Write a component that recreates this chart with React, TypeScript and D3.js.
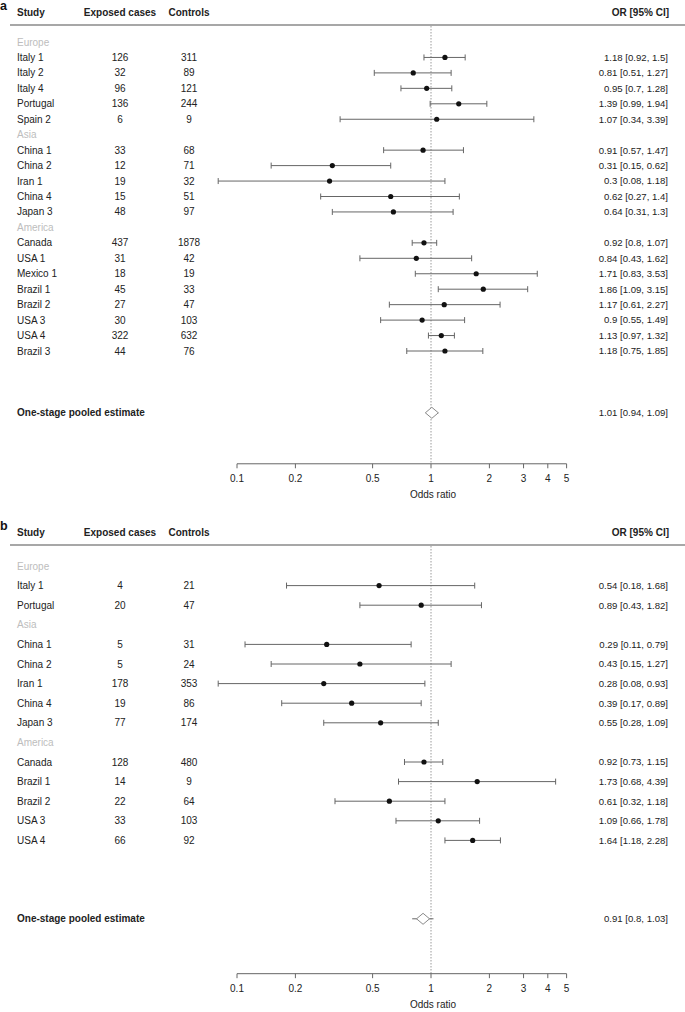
import React from "react";
import * as d3 from "d3";

// ---------- Panel a data ----------
const regionsA = ["Europe", "Asia", "America"];
const regionSizesA = [5, 5, 8];
const studiesA = ["Italy 1", "Italy 2", "Italy 4", "Portugal", "Spain 2", "China 1", "China 2", "Iran 1", "China 4", "Japan 3", "Canada", "USA 1", "Mexico 1", "Brazil 1", "Brazil 2", "USA 3", "USA 4", "Brazil 3"];
const casesA = [126, 32, 96, 136, 6, 33, 12, 19, 15, 48, 437, 31, 18, 45, 27, 30, 322, 44];
const controlsA = [311, 89, 121, 244, 9, 68, 71, 32, 51, 97, 1878, 42, 19, 33, 47, 103, 632, 76];
const orA = [1.18, 0.81, 0.95, 1.39, 1.07, 0.91, 0.31, 0.3, 0.62, 0.64, 0.92, 0.84, 1.71, 1.86, 1.17, 0.9, 1.13, 1.18];
const lowerA = [0.92, 0.51, 0.7, 0.99, 0.34, 0.57, 0.15, 0.08, 0.27, 0.31, 0.8, 0.43, 0.83, 1.09, 0.61, 0.55, 0.97, 0.75];
const upperA = [1.5, 1.27, 1.28, 1.94, 3.39, 1.47, 0.62, 1.18, 1.4, 1.3, 1.07, 1.62, 3.53, 3.15, 2.27, 1.49, 1.32, 1.85];
const pooledA = [1.01, 0.94, 1.09];

// ---------- Panel b data ----------
const regionsB = ["Europe", "Asia", "America"];
const regionSizesB = [2, 5, 5];
const studiesB = ["Italy 1", "Portugal", "China 1", "China 2", "Iran 1", "China 4", "Japan 3", "Canada", "Brazil 1", "Brazil 2", "USA 3", "USA 4"];
const casesB = [4, 20, 5, 5, 178, 19, 77, 128, 14, 22, 33, 66];
const controlsB = [21, 47, 31, 24, 353, 86, 174, 480, 9, 64, 103, 92];
const orB = [0.54, 0.89, 0.29, 0.43, 0.28, 0.39, 0.55, 0.92, 1.73, 0.61, 1.09, 1.64];
const lowerB = [0.18, 0.43, 0.11, 0.15, 0.08, 0.17, 0.28, 0.73, 0.68, 0.32, 0.66, 1.18];
const upperB = [1.68, 1.82, 0.79, 1.27, 0.93, 0.89, 1.09, 1.15, 4.39, 1.18, 1.78, 2.28];
const pooledB = [0.91, 0.8, 1.03];

const tickValues = [0.1, 0.2, 0.5, 1, 2, 3, 4, 5];

const FONT = "'Liberation Sans', Arial, Helvetica, sans-serif";
const TEXT = "#222";
const GREY = "#666";
const LIGHT = "#bdbdbd";

type PanelProps = {
  letter: string;
  top: number;
  rowStart: number;
  rowStep: number;
  regions: string[];
  sizes: number[];
  studies: string[];
  cases: number[];
  controls: number[];
  or: number[];
  lower: number[];
  upper: number[];
  pooled: number[];
  pooledRow: number;
  axisRow: number;
  valueSize: number;
  pooledWhisker: boolean;
};

const x = d3.scaleLog().domain([0.1, 10]).range([237, 625]);

function fmt(v: number[]) {
  return `${v[0]} [${v[1]}, ${v[2]}]`;
}

function Panel(p: PanelProps) {
  const y = d3.scaleLinear().domain([0, 1]).range([p.rowStart, p.rowStart + p.rowStep]);
  const rows: { kind: "region" | "study"; label: string; i: number; row: number }[] = [];
  let r = 0;
  let s = 0;
  p.regions.forEach((reg, gi) => {
    rows.push({ kind: "region", label: reg, i: -1, row: r++ });
    for (let k = 0; k < p.sizes[gi]; k++) {
      rows.push({ kind: "study", label: p.studies[s], i: s, row: r++ });
      s++;
    }
  });
  const headerY = p.top + 12.5;
  const lineY = p.top + 25;
  const axisY = y(p.axisRow);
  const py = y(p.pooledRow);
  const px = x(p.pooled[0]);
  const dw = 6.5;
  const dh = 5.5;
  return (
    <g>
      <text x={0} y={p.top + 10} fontSize={12.5} fontWeight="bold" fill="#111" fontFamily={FONT}>{p.letter}</text>
      <g fontFamily={FONT} fontSize={10} fontWeight="bold" fill={TEXT}>
        <text x={17} y={headerY} dy="0.35em">Study</text>
        <text x={120} y={headerY} dy="0.35em" textAnchor="middle">Exposed cases</text>
        <text x={189} y={headerY} dy="0.35em" textAnchor="middle">Controls</text>
        <text x={669} y={headerY} dy="0.35em" textAnchor="end">OR [95% CI]</text>
      </g>
      <line x1={10} x2={685} y1={lineY} y2={lineY} stroke="#8a8a8a" strokeWidth={1.5} />
      <line x1={x(1)} x2={x(1)} y1={lineY + 1} y2={axisY} stroke="#9a9a9a" strokeWidth={1} strokeDasharray="1.5,1.5" />
      {rows.map((row) => {
        const yy = y(row.row);
        if (row.kind === "region") {
          return (
            <text key={"r" + row.row} x={17} y={yy} dy="0.35em" fontFamily={FONT} fontSize={10} fill={LIGHT}>{row.label}</text>
          );
        }
        const i = row.i;
        return (
          <g key={"s" + row.row}>
            <text x={17} y={yy} dy="0.35em" fontFamily={FONT} fontSize={10} fill={TEXT}>{row.label}</text>
            <text x={120} y={yy} dy="0.35em" fontFamily={FONT} fontSize={10} fill={TEXT} textAnchor="middle">{p.cases[i]}</text>
            <text x={189} y={yy} dy="0.35em" fontFamily={FONT} fontSize={10} fill={TEXT} textAnchor="middle">{p.controls[i]}</text>
            <text x={668} y={yy} dy="0.35em" fontFamily={FONT} fontSize={p.valueSize} fill={TEXT} textAnchor="end">{fmt([p.or[i], p.lower[i], p.upper[i]])}</text>
            <line x1={x(p.lower[i])} x2={x(p.upper[i])} y1={yy} y2={yy} stroke={GREY} strokeWidth={1} />
            <line x1={x(p.lower[i])} x2={x(p.lower[i])} y1={yy - 3} y2={yy + 3} stroke={GREY} strokeWidth={1} />
            <line x1={x(p.upper[i])} x2={x(p.upper[i])} y1={yy - 3} y2={yy + 3} stroke={GREY} strokeWidth={1} />
            <circle cx={x(p.or[i])} cy={yy} r={2.6} fill="#111" />
          </g>
        );
      })}
      <text x={17} y={py} dy="0.35em" fontFamily={FONT} fontSize={10} fontWeight="bold" fill={TEXT}>One-stage pooled estimate</text>
      <text x={668} y={py} dy="0.35em" fontFamily={FONT} fontSize={p.valueSize} fill={TEXT} textAnchor="end">{fmt(p.pooled)}</text>
      {p.pooledWhisker && (
        <line x1={x(p.pooled[1])} x2={x(p.pooled[2])} y1={py} y2={py} stroke={GREY} strokeWidth={1} />
      )}
      <path
        d={`M${px - dw},${py} L${px},${py - dh} L${px + dw},${py} L${px},${py + dh} Z`}
        fill="#fff"
        stroke="#8a8a8a"
        strokeWidth={1}
      />
      <line x1={x(0.1)} x2={x(5)} y1={axisY} y2={axisY} stroke={GREY} strokeWidth={1} />
      {tickValues.map((t) => (
        <g key={"t" + t}>
          <line x1={x(t)} x2={x(t)} y1={axisY} y2={axisY + 4.5} stroke={GREY} strokeWidth={1} />
          <text x={x(t)} y={axisY + 15} dy="0.35em" textAnchor="middle" fontFamily={FONT} fontSize={10} fill={TEXT}>{String(t)}</text>
        </g>
      ))}
      <text x={x(1) + 2} y={axisY + 31} dy="0.35em" textAnchor="middle" fontFamily={FONT} fontSize={10} fill={TEXT}>Odds ratio</text>
    </g>
  );
}

export default function App() {
  return (
    <svg width={685} height={1012} style={{ position: "absolute", left: 0, top: 0, background: "#fff" }}>
      <rect x={0} y={0} width={685} height={1012} fill="#fff" />
      <Panel
        letter="a"
        top={0}
        rowStart={42}
        rowStep={15.45}
        regions={regionsA}
        sizes={regionSizesA}
        studies={studiesA}
        cases={casesA}
        controls={controlsA}
        or={orA}
        lower={lowerA}
        upper={upperA}
        pooled={pooledA}
        pooledRow={24}
        axisRow={27.3}
        valueSize={9.6}
        pooledWhisker={true}
      />
      <Panel
        letter="b"
        top={520}
        rowStart={566}
        rowStep={19.6}
        regions={regionsB}
        sizes={regionSizesB}
        studies={studiesB}
        cases={casesB}
        controls={controlsB}
        or={orB}
        lower={lowerB}
        upper={upperB}
        pooled={pooledB}
        pooledRow={18}
        axisRow={20.8}
        valueSize={9.6}
        pooledWhisker={true}
      />
    </svg>
  );
}
